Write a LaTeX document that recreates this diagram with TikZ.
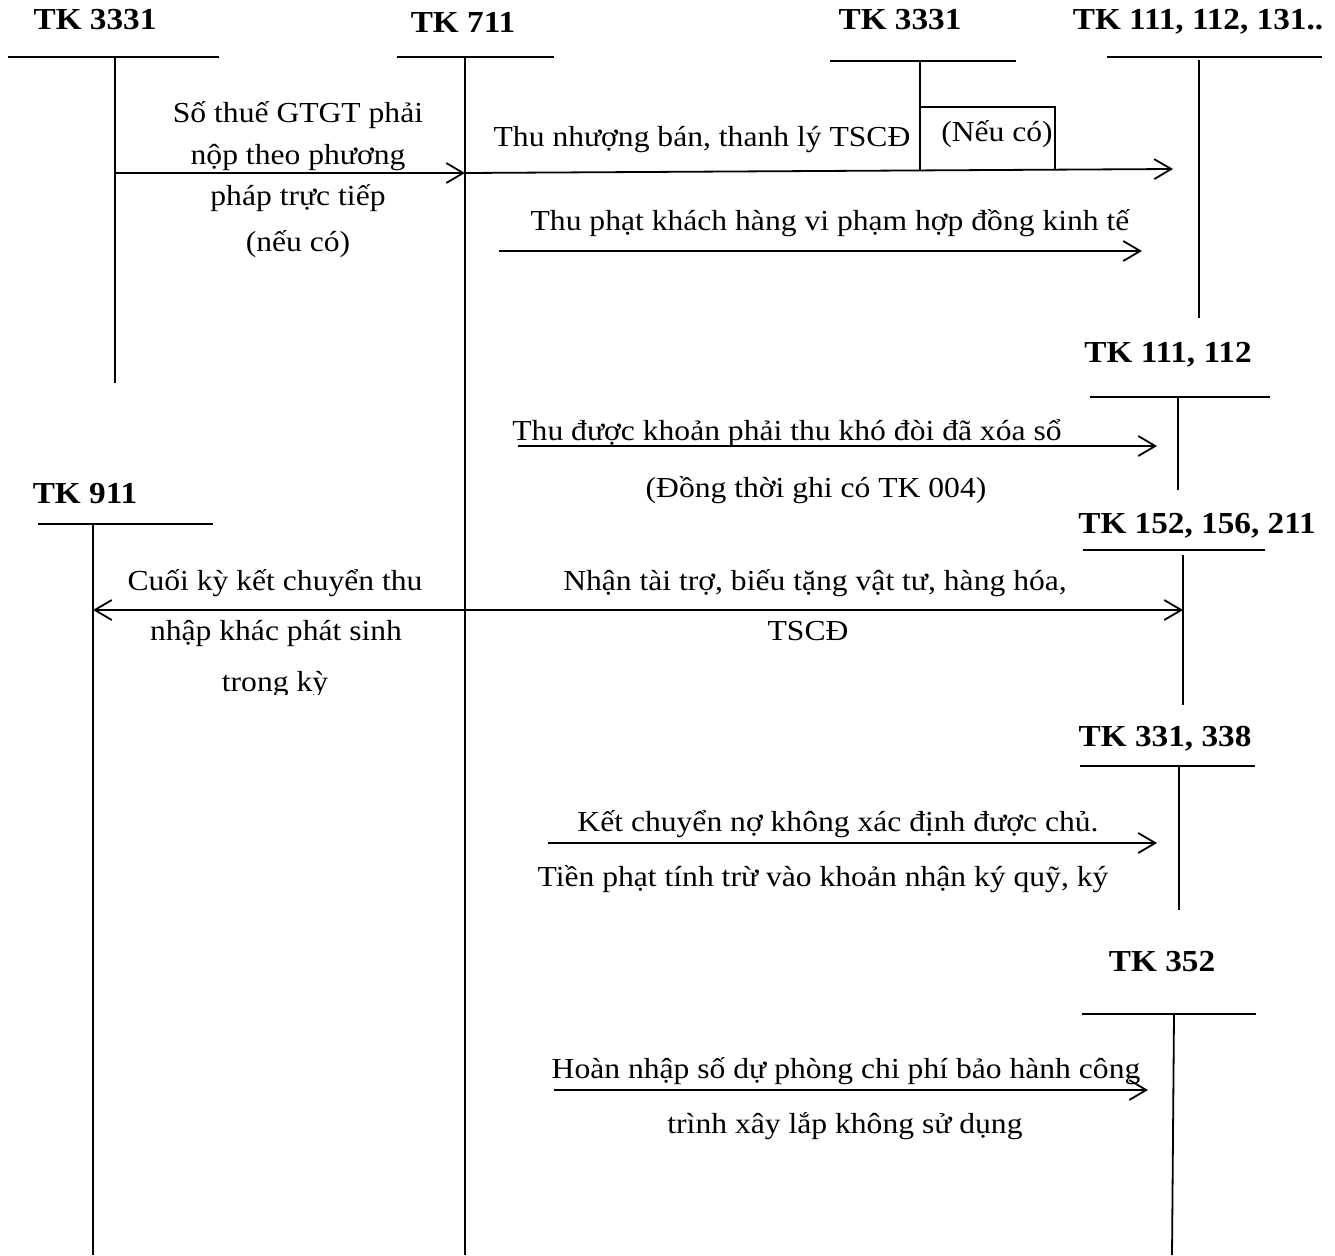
\documentclass[tikz,border=0pt]{standalone}
\usepackage{fontspec}
\setmainfont[FakeStretch=1.09]{Liberation Serif}
\usetikzlibrary{arrows.meta}
\tikzset{
  acct/.style={font=\bfseries\fontsize{30.5}{34}\selectfont, anchor=base, inner sep=0pt},
  txt/.style={font=\fontsize{29}{34}\selectfont, anchor=base, inner sep=0pt},
  rule/.style={line width=1.8pt},
  flow/.style={line width=1.8pt, -{Straight Barb[length=17pt,width=20pt]}},
}
\begin{document}
\begin{tikzpicture}[x=1pt,y=-1pt]
\useasboundingbox (0,0) rectangle (1335,1255);

% ---- T-accounts: title, top rule, stem ----
% TK 3331 (left)
\node[acct] (n3331a) at (95,30) {TK 3331};
\coordinate (h1a) at (8,57);   \coordinate (h1b) at (219,57);
\coordinate (v1a) at (115,57); \coordinate (v1b) at (115,383);
\draw[rule] (h1a) -- (h1b);  \draw[rule] (v1a) -- (v1b);
% TK 711
\node[acct] (n711) at (463,33) {TK 711};
\coordinate (h2a) at (397,57);  \coordinate (h2b) at (554,57);
\coordinate (v2a) at (465,57);  \coordinate (v2b) at (465,1255);
\draw[rule] (h2a) -- (h2b);  \draw[rule] (v2a) -- (v2b);
% TK 3331 (right)
\node[acct] (n3331b) at (900,30) {TK 3331};
\coordinate (h3a) at (830,61);  \coordinate (h3b) at (1016,61);
\coordinate (v3a) at (920,61);  \coordinate (v3b) at (920,170);
\coordinate (bx1) at (920,107); \coordinate (bx2) at (1055,107); \coordinate (bx3) at (1055,170);
\draw[rule] (h3a) -- (h3b);  \draw[rule] (v3a) -- (v3b);
\draw[line width=1.4pt] (bx1) -- (bx2) -- (bx3);
\node[txt] (neuco) at (997,141) {(Nếu có)};
% TK 111, 112, 131..
\node[acct] (n111a) at (1198,30) {TK 111, 112, 131..};
\coordinate (h4a) at (1107,57); \coordinate (h4b) at (1322,57);
\coordinate (v4a) at (1199,60); \coordinate (v4b) at (1199,318);
\draw[rule] (h4a) -- (h4b);  \draw[rule] (v4a) -- (v4b);
% TK 111, 112
\node[acct] (n111b) at (1168,362) {TK 111, 112};
\coordinate (h5a) at (1090,397); \coordinate (h5b) at (1270,397);
\coordinate (v5a) at (1178,397); \coordinate (v5b) at (1178,490);
\draw[rule] (h5a) -- (h5b);  \draw[rule] (v5a) -- (v5b);
% TK 911
\node[acct] (n911) at (85,503) {TK 911};
\coordinate (h6a) at (38,524);  \coordinate (h6b) at (213,524);
\coordinate (v6a) at (93,524);  \coordinate (v6b) at (93,1255);
\draw[rule] (h6a) -- (h6b);  \draw[rule] (v6a) -- (v6b);
% TK 152, 156, 211
\node[acct] (n152) at (1197,533) {TK 152, 156, 211};
\coordinate (h7a) at (1083,550); \coordinate (h7b) at (1265,550);
\coordinate (v7a) at (1183,555); \coordinate (v7b) at (1183,705);
\draw[rule] (h7a) -- (h7b);  \draw[rule] (v7a) -- (v7b);
% TK 331, 338
\node[acct] (n331) at (1165,746) {TK 331, 338};
\coordinate (h8a) at (1080,766); \coordinate (h8b) at (1255,766);
\coordinate (v8a) at (1179,766); \coordinate (v8b) at (1179,910);
\draw[rule] (h8a) -- (h8b);  \draw[rule] (v8a) -- (v8b);
% TK 352
\node[acct] (n352) at (1162,971) {TK 352};
\coordinate (h9a) at (1082,1014); \coordinate (h9b) at (1256,1014);
\coordinate (v9a) at (1174,1014); \coordinate (v9b) at (1172,1255);
\draw[rule] (h9a) -- (h9b);  \draw[rule] (v9a) -- (v9b);

% ---- entries ----
% 3331 -> 711
\coordinate (a1s) at (115,173); \coordinate (a1e) at (465,173);
\draw[flow] (a1s) -- (a1e);
\node[txt] (a1t1) at (298,122) {Số thuế GTGT phải};
\node[txt] (a1t2) at (298,164) {nộp theo phương};
\node[txt] (a1t3) at (298,205) {pháp trực tiếp};
\node[txt] (a1t4) at (298,251) {(nếu có)};

% 711 -> 111, 112, 131..
\coordinate (a2e) at (1173,169);
\draw[flow] (a1e) -- (a2e);
\node[txt] (a2t) at (702,146) {Thu nhượng bán, thanh lý TSCĐ};

\coordinate (a3s) at (499,251); \coordinate (a3e) at (1142,251);
\draw[flow] (a3s) -- (a3e);
\node[txt] (a3t) at (830,230) {Thu phạt khách hàng vi phạm hợp đồng kinh tế};

% 711 -> 111, 112
\coordinate (a4s) at (518,446); \coordinate (a4e) at (1157,446);
\draw[flow] (a4s) -- (a4e);
\node[txt] (a4t1) at (787,440) {Thu được khoản phải thu khó đòi đã xóa sổ};
\node[txt] (a4t2) at (816,497) {(Đồng thời ghi có TK 004)};

% 711 -> 911
\coordinate (a5s) at (465,610); \coordinate (a5e) at (93,610);
\draw[flow] (a5s) -- (a5e);
\node[txt] (a5t1) at (275,590) {Cuối kỳ kết chuyển thu};
\node[txt] (a5t2) at (276,640) {nhập khác phát sinh};
\begin{scope}
  \clip (100,650) rectangle (460,694);
  \node[txt] (a5t3) at (275,691) {trong kỳ};
\end{scope}

% 711 -> 152, 156, 211
\coordinate (a6e) at (1183,610);
\draw[flow] (a5s) -- (a6e);
\node[txt] (a6t1) at (815,590) {Nhận tài trợ, biếu tặng vật tư, hàng hóa,};
\node[txt] (a6t2) at (808,640) {TSCĐ};

% 711 -> 331, 338
\coordinate (a7s) at (548,843); \coordinate (a7e) at (1157,843);
\draw[flow] (a7s) -- (a7e);
\node[txt] (a7t1) at (838,831) {Kết chuyển nợ không xác định được chủ.};
\node[txt] (a7t2) at (823,886) {Tiền phạt tính trừ vào khoản nhận ký quỹ, ký};

% 711 -> 352
\coordinate (a8s) at (554,1090); \coordinate (a8e) at (1148,1090);
\draw[flow] (a8s) -- (a8e);
\node[txt] (a8t1) at (846,1078) {Hoàn nhập số dự phòng chi phí bảo hành công};
\node[txt] (a8t2) at (845,1133) {trình xây lắp không sử dụng};
\end{tikzpicture}
\end{document}
